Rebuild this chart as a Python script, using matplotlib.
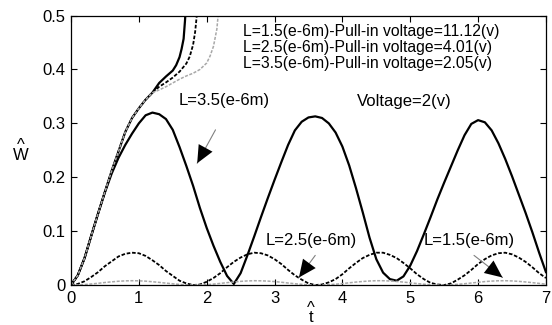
import numpy as np
import matplotlib
matplotlib.use("Agg")
import matplotlib.pyplot as plt

plt.rcParams['font.family'] = ['Liberation Sans', 'DejaVu Sans']

# time axis shared by the three Voltage=2(v) responses
t = np.round(np.arange(0, 71) * 0.1, 1)

# L = 3.5 um, solid black
w_35 = [0.000, 0.018, 0.050, 0.092, 0.133, 0.172, 0.207, 0.236, 0.260, 0.281,
        0.300, 0.315, 0.320, 0.317, 0.308, 0.288, 0.256, 0.221, 0.184, 0.143,
        0.106, 0.073, 0.043, 0.017, 0.002, 0.022, 0.055, 0.090, 0.126, 0.161,
        0.195, 0.228, 0.260, 0.287, 0.303, 0.311, 0.313, 0.310, 0.300, 0.283,
        0.257, 0.222, 0.180, 0.135, 0.088, 0.048, 0.023, 0.011, 0.008, 0.016,
        0.036, 0.063, 0.094, 0.126, 0.159, 0.190, 0.220, 0.250, 0.278, 0.299,
        0.306, 0.302, 0.287, 0.263, 0.234, 0.202, 0.168, 0.134, 0.098, 0.060, 0.024]

# L = 2.5 um, black dotted
w_25 = [0.000, 0.002, 0.007, 0.015, 0.024, 0.035, 0.044, 0.053, 0.058, 0.060,
        0.059, 0.054, 0.046, 0.037, 0.026, 0.017, 0.008, 0.003, 0.000, 0.001,
        0.006, 0.013, 0.022, 0.033, 0.043, 0.051, 0.057, 0.060, 0.059, 0.055,
        0.048, 0.039, 0.028, 0.018, 0.010, 0.003, 0.000, 0.001, 0.005, 0.011,
        0.020, 0.031, 0.041, 0.050, 0.056, 0.060, 0.060, 0.056, 0.050, 0.041,
        0.031, 0.020, 0.011, 0.004, 0.001, 0.000, 0.003, 0.010, 0.018, 0.028,
        0.039, 0.048, 0.055, 0.059, 0.060, 0.057, 0.051, 0.043, 0.033, 0.022, 0.013]

# L = 1.5 um, grey dotted
w_15 = [0.0000, 0.0002, 0.0009, 0.0020, 0.0032, 0.0047, 0.0059, 0.0070, 0.0077, 0.0080,
        0.0078, 0.0072, 0.0061, 0.0049, 0.0035, 0.0023, 0.0011, 0.0004, 0.0000, 0.0001,
        0.0008, 0.0017, 0.0030, 0.0044, 0.0057, 0.0068, 0.0076, 0.0080, 0.0078, 0.0073,
        0.0064, 0.0052, 0.0037, 0.0024, 0.0013, 0.0004, 0.0000, 0.0001, 0.0007, 0.0015,
        0.0027, 0.0041, 0.0055, 0.0066, 0.0075, 0.0080, 0.0080, 0.0075, 0.0066, 0.0055,
        0.0041, 0.0027, 0.0015, 0.0005, 0.0001, 0.0000, 0.0004, 0.0013, 0.0024, 0.0037,
        0.0051, 0.0064, 0.0073, 0.0079, 0.0080, 0.0076, 0.0068, 0.0057, 0.0044, 0.0030, 0.0017]

# pull-in runs: common start, then each one runs away
pull_t_common = [0.0, 0.1, 0.2, 0.3, 0.4, 0.5, 0.6, 0.7, 0.8, 0.9, 1.0, 1.1, 1.2]
pull_w_common = [0.000, 0.018, 0.050, 0.092, 0.133, 0.173, 0.212, 0.248, 0.284, 0.310, 0.328, 0.344, 0.357]

pull_t_35 = [1.3, 1.4, 1.5, 1.55, 1.6, 1.63, 1.66, 1.68, 1.70]
pull_w_35 = [0.375, 0.387, 0.398, 0.408, 0.423, 0.438, 0.457, 0.490, 0.530]
pull_t_25 = [1.3, 1.4, 1.5, 1.6, 1.7, 1.75, 1.8, 1.83, 1.85, 1.87]
pull_w_25 = [0.368, 0.376, 0.385, 0.396, 0.411, 0.424, 0.446, 0.470, 0.495, 0.530]
pull_t_15 = [1.3, 1.4, 1.5, 1.6, 1.7, 1.8, 1.9, 2.0, 2.05, 2.1, 2.15, 2.19]
pull_w_15 = [0.362, 0.368, 0.375, 0.382, 0.388, 0.393, 0.400, 0.412, 0.425, 0.443, 0.475, 0.530]

legend_lines = ["L=1.5(e-6m)-Pull-in voltage=11.12(v)",
                "L=2.5(e-6m)-Pull-in voltage=4.01(v)",
                "L=3.5(e-6m)-Pull-in voltage=2.05(v)"]

x_ticks = [0, 1, 2, 3, 4, 5, 6, 7]
y_ticks = [0, 0.1, 0.2, 0.3, 0.4, 0.5]
y_tick_labels = ["0", "0.1", "0.2", "0.3", "0.4", "0.5"]

solid = dict(color="black", lw=1.6, ls="-")
dotted = dict(color="black", lw=1.3, ls=(0, (2, 1)))
grey = dict(color="#a8a8a8", lw=1.1, ls=(0, (2, 1)))

fig = plt.figure(figsize=(5.52, 3.25), dpi=100)
ax = fig.add_axes([0.1286, 0.123, 0.8604, 0.829])

ax.plot(t, w_35, **solid)
ax.plot(t, w_25, **dotted)
ax.plot(t, w_15, **grey)

ax.plot(pull_t_common + pull_t_35, pull_w_common + pull_w_35, **solid)
ax.plot(pull_t_common + pull_t_25, pull_w_common + pull_w_25, **dotted)
ax.plot(pull_t_common + pull_t_15, pull_w_common + pull_w_15, **grey)

ax.set_xlim(0, 7)
ax.set_ylim(0, 0.5)
ax.set_xticks(x_ticks)
ax.set_yticks(y_ticks)
ax.set_yticklabels(y_tick_labels)
ax.tick_params(direction="in", top=True, right=True, length=4, width=0.8,
               labelsize=12, pad=4)
for s in ax.spines.values():
    s.set_linewidth(0.9)

# hatted axis names: caret stacked over the letter
ax.text(0.505, -0.058, "^\nt", fontsize=12, ha="center", va="top",
        linespacing=0.55, transform=ax.transAxes)
ax.text(-0.105, 0.50, "^\nW", fontsize=12, ha="center", va="center",
        linespacing=0.6, transform=ax.transAxes)

for i, line in enumerate(legend_lines):
    ax.text(2.54, 0.470 - 0.029 * i, line, fontsize=11.3, va="center", ha="left")

ax.text(4.22, 0.340, "Voltage=2(v)", fontsize=12, va="center", ha="left")


def pointer(label, xy_text, tail, tip):
    ax.text(xy_text[0], xy_text[1], label, fontsize=12, va="center", ha="left")
    ax.annotate("", xy=tip, xytext=tail,
                arrowprops=dict(arrowstyle="-", color="#808080", lw=0.8,
                                shrinkA=0, shrinkB=0))
    # filled black head only, the shaft is the grey line underneath
    ax.annotate("", xy=tip, xytext=tail,
                arrowprops=dict(arrowstyle="-|>,head_length=0.6,head_width=0.27",
                                fc="black", ec="black", lw=0, shrinkA=0, shrinkB=0,
                                mutation_scale=21))


pointer("L=3.5(e-6m)", (1.58, 0.343), (2.13, 0.288), (1.86, 0.226))
pointer("L=2.5(e-6m)", (2.87, 0.083), (3.60, 0.055), (3.36, 0.014))
pointer("L=1.5(e-6m)", (5.20, 0.083), (5.94, 0.055), (6.36, 0.014))

fig.savefig("out.png", dpi=100)
